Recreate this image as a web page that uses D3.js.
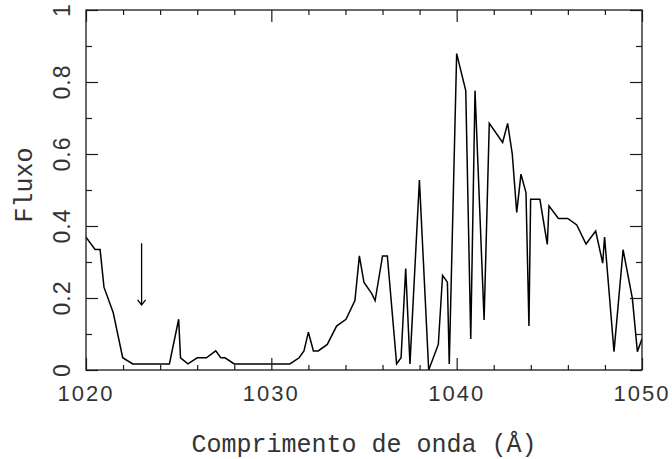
<!DOCTYPE html>
<html>
<head>
<meta charset="utf-8">
<script src="https://cdn.jsdelivr.net/npm/d3@7"></script>
<style>
  html, body { margin: 0; padding: 0; background: #fff; }
  svg { display: block; }
</style>
</head>
<body>
<svg id="chart" width="672" height="459"></svg>
<script>
// ---- data ----
const wavelength = [
  1020.0, 1020.49, 1020.76, 1020.97, 1021.47, 1021.98, 1022.52, 1024.5, 1025.0, 1025.1,
  1025.5, 1026.0, 1026.5, 1027.0, 1027.27, 1027.5, 1028.0, 1031.0, 1031.5, 1031.76,
  1032.0, 1032.27, 1032.53, 1033.02, 1033.52, 1034.03, 1034.51, 1034.75, 1035.0, 1035.41,
  1035.6, 1036.0, 1036.26, 1036.76, 1037.0, 1037.25, 1037.48, 1037.99, 1038.49, 1039.01,
  1039.24, 1039.5, 1039.6, 1040.0, 1040.49, 1040.76, 1040.99, 1041.48, 1041.76, 1042.48,
  1042.75, 1043.0, 1043.24, 1043.47, 1043.74, 1043.9, 1043.99, 1044.49, 1044.89, 1044.98,
  1045.49, 1045.99, 1046.48, 1046.98, 1047.5, 1047.88, 1047.98, 1048.49, 1048.98, 1049.48,
  1049.75, 1050.0
];
const flux = [
  0.369, 0.335, 0.335, 0.23, 0.159, 0.034, 0.017, 0.017, 0.141, 0.034,
  0.017, 0.034, 0.034, 0.053, 0.034, 0.034, 0.017, 0.017, 0.034, 0.053,
  0.105, 0.053, 0.053, 0.071, 0.122, 0.141, 0.193, 0.317, 0.243, 0.213,
  0.193, 0.317, 0.317, 0.017, 0.034, 0.282, 0.017, 0.528, 0.0, 0.071,
  0.263, 0.244, 0.017, 0.879, 0.776, 0.086, 0.776, 0.139, 0.685, 0.632,
  0.685, 0.6, 0.438, 0.544, 0.493, 0.122, 0.474, 0.474, 0.349, 0.456,
  0.421, 0.421, 0.403, 0.35, 0.386, 0.297, 0.369, 0.051, 0.334, 0.199,
  0.051, 0.087
];
const xMajorTicks = [1020, 1030, 1040, 1050];
const xTickLabels = ["1020", "1030", "1040", "1050"];
const xMinorTicks = [1022, 1024, 1026, 1028, 1032, 1034, 1036, 1038, 1042, 1044, 1046, 1048];
const yMajorTicks = [0, 0.2, 0.4, 0.6, 0.8, 1];
const yTickLabels = ["0", "0.2", "0.4", "0.6", "0.8", "1"];
const yMinorTicks = [0.1, 0.3, 0.5, 0.7, 0.9];
const arrowWavelength = [1023];
const arrowFlux = [0.352, 0.181];
const xTitle = "Comprimento de onda (Å)";
const yTitle = "Fluxo";

// ---- layout ----
const L = 86, R = 642, T = 10, B = 370;
const svg = d3.select("#chart");
const x = d3.scaleLinear().domain([1020, 1050]).range([L, R]);
const y = d3.scaleLinear().domain([0, 1]).range([B, T]);

const ink = "#1a1a1a";
const txt = "#333";

// clip
svg.append("clipPath").attr("id", "clip")
  .append("rect").attr("x", L).attr("y", T).attr("width", R - L).attr("height", B - T);

// data line
const line = d3.line().x((d, i) => x(wavelength[i])).y(d => y(d));
svg.append("path")
  .datum(flux)
  .attr("clip-path", "url(#clip)")
  .attr("d", line)
  .attr("fill", "none")
  .attr("stroke", "#000")
  .attr("stroke-width", 1.5)
  .attr("stroke-linejoin", "miter");

// axes (ticks inward)
function styleAxis(g) {
  g.select(".domain").remove();
  g.selectAll(".tick line").attr("stroke", ink).attr("stroke-width", 1.2);
  g.selectAll(".tick text").remove();
}
svg.append("g").attr("transform", `translate(0,${B})`)
  .call(d3.axisBottom(x).tickValues(xMajorTicks).tickSize(-12).tickFormat("")).call(styleAxis);
svg.append("g").attr("transform", `translate(0,${B})`)
  .call(d3.axisBottom(x).tickValues(xMinorTicks).tickSize(-5).tickFormat("")).call(styleAxis);
svg.append("g").attr("transform", `translate(0,${T})`)
  .call(d3.axisTop(x).tickValues(xMajorTicks).tickSize(-12).tickFormat("")).call(styleAxis);
svg.append("g").attr("transform", `translate(0,${T})`)
  .call(d3.axisTop(x).tickValues(xMinorTicks).tickSize(-5).tickFormat("")).call(styleAxis);
svg.append("g").attr("transform", `translate(${L},0)`)
  .call(d3.axisLeft(y).tickValues(yMajorTicks).tickSize(-12).tickFormat("")).call(styleAxis);
svg.append("g").attr("transform", `translate(${L},0)`)
  .call(d3.axisLeft(y).tickValues(yMinorTicks).tickSize(-6).tickFormat("")).call(styleAxis);
svg.append("g").attr("transform", `translate(${R},0)`)
  .call(d3.axisRight(y).tickValues(yMajorTicks).tickSize(-12).tickFormat("")).call(styleAxis);
svg.append("g").attr("transform", `translate(${R},0)`)
  .call(d3.axisRight(y).tickValues(yMinorTicks).tickSize(-6).tickFormat("")).call(styleAxis);

// frame
svg.append("rect")
  .attr("x", L).attr("y", T).attr("width", R - L).attr("height", B - T)
  .attr("fill", "none").attr("stroke", ink).attr("stroke-width", 1.3);

// tick labels
const tickFont = "'Liberation Sans', Arial, sans-serif";
svg.append("g").selectAll("text")
  .data(xMajorTicks)
  .join("text")
  .attr("x", d => x(d))
  .attr("y", 401)
  .attr("text-anchor", "middle")
  .attr("font-family", tickFont)
  .attr("font-size", 22)
  .attr("letter-spacing", 2)
  .attr("fill", txt)
  .text((d, i) => xTickLabels[i]);

svg.append("g").selectAll("text")
  .data(yMajorTicks)
  .join("text")
  .attr("transform", d => `translate(70,${y(d)}) rotate(-90)`)
  .attr("text-anchor", "middle")
  .attr("font-family", tickFont)
  .attr("font-size", 23)
  .attr("letter-spacing", 1)
  .attr("fill", txt)
  .text((d, i) => yTickLabels[i]);

// axis titles
const titleFont = "'Liberation Mono', 'DejaVu Sans Mono', monospace";
svg.append("text")
  .attr("x", (L + R) / 2)
  .attr("y", 452)
  .attr("text-anchor", "middle")
  .attr("font-family", titleFont)
  .attr("font-size", 25)
  .attr("fill", txt)
  .text(xTitle);

svg.append("text")
  .attr("transform", `translate(32,${(T + B) / 2 - 5}) rotate(-90)`)
  .attr("text-anchor", "middle")
  .attr("font-family", titleFont)
  .attr("font-size", 25)
  .attr("fill", txt)
  .text(yTitle);

// arrow marker
const ax = x(arrowWavelength[0]);
const ay0 = y(arrowFlux[0]), ay1 = y(arrowFlux[1]);
svg.append("line")
  .attr("x1", ax).attr("x2", ax).attr("y1", ay0).attr("y2", ay1)
  .attr("stroke", "#000").attr("stroke-width", 1.3);
svg.append("path")
  .attr("d", d3.line()([[ax - 4, ay1 - 5], [ax, ay1], [ax + 4, ay1 - 5]]))
  .attr("fill", "none").attr("stroke", "#000").attr("stroke-width", 1.3);
</script>
</body>
</html>
